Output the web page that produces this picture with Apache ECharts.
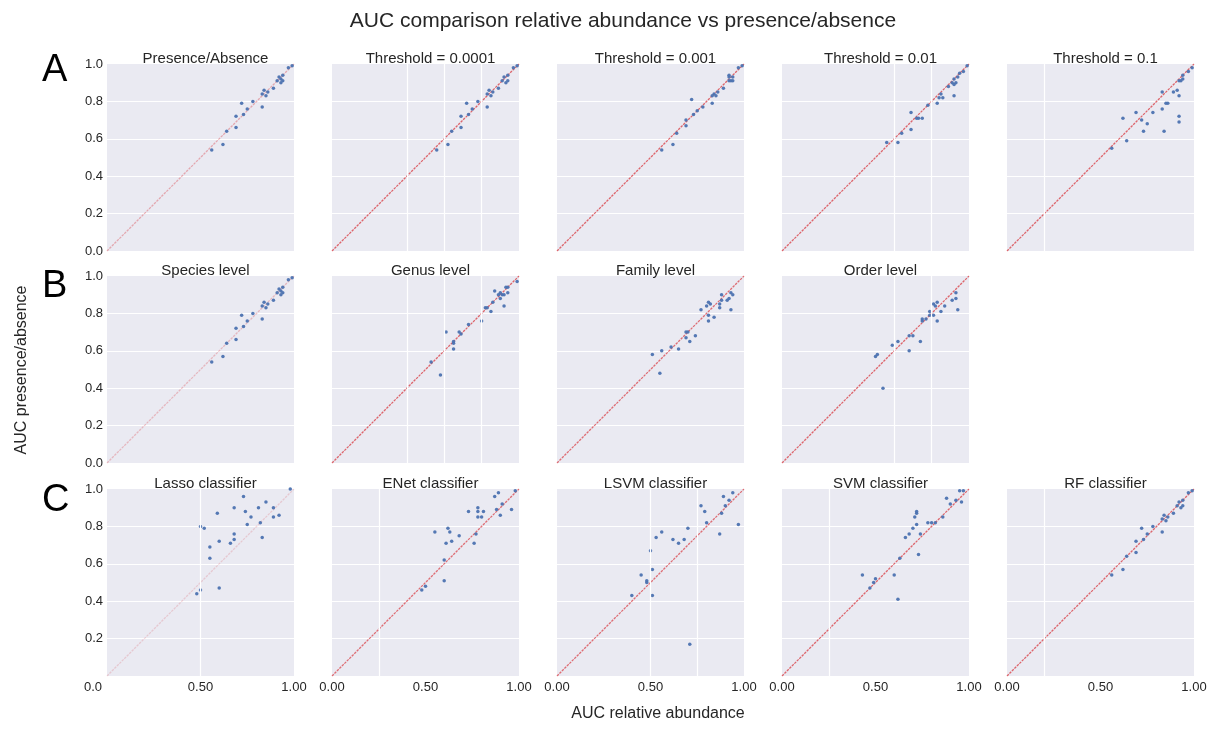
<!DOCTYPE html>
<html>
<head>
<meta charset="utf-8">
<script src="https://cdn.jsdelivr.net/npm/echarts@6/dist/echarts.min.js"></script>
<style>
  html, body { margin: 0; padding: 0; background: #ffffff; }
  #chart { width: 1218px; height: 729px; }
</style>
</head>
<body>
<div id="chart"></div>
<script>
// ---- Data: [AUC relative abundance, AUC presence/absence] per model ----
const presenceAbsence = [
  [0.56,0.54],[0.62,0.57],[0.64,0.64],[0.69,0.66],[0.69,0.72],[0.72,0.79],[0.73,0.73],
  [0.75,0.76],[0.78,0.80],[0.83,0.77],[0.83,0.84],[0.84,0.86],[0.85,0.83],[0.86,0.85],
  [0.89,0.87],[0.91,0.91],[0.92,0.93],[0.93,0.92],[0.93,0.90],[0.94,0.91],[0.94,0.94],
  [0.97,0.98],[0.99,0.99]
];
const threshold0001 = [
  [0.56,0.54],[0.62,0.57],[0.64,0.64],[0.69,0.66],[0.69,0.72],[0.72,0.79],[0.73,0.73],
  [0.75,0.76],[0.78,0.80],[0.83,0.77],[0.83,0.84],[0.84,0.86],[0.85,0.83],[0.86,0.85],
  [0.89,0.87],[0.91,0.91],[0.92,0.93],[0.93,0.90],[0.94,0.91],[0.94,0.94],[0.97,0.98],
  [0.99,0.99]
];
const threshold001 = [
  [0.56,0.54],[0.62,0.57],[0.64,0.63],[0.69,0.67],[0.69,0.70],[0.72,0.81],[0.73,0.73],
  [0.75,0.75],[0.78,0.77],[0.83,0.79],[0.83,0.83],[0.84,0.84],[0.85,0.83],[0.86,0.85],
  [0.89,0.87],[0.92,0.94],[0.92,0.93],[0.92,0.91],[0.93,0.91],[0.94,0.91],[0.94,0.93],
  [0.97,0.98],[0.99,0.99]
];
const threshold01 = [
  [0.56,0.58],[0.62,0.58],[0.64,0.63],[0.69,0.65],[0.69,0.74],[0.72,0.71],[0.73,0.71],
  [0.75,0.71],[0.78,0.78],[0.83,0.79],[0.84,0.82],[0.85,0.84],[0.86,0.82],[0.89,0.88],
  [0.91,0.90],[0.92,0.83],[0.92,0.89],[0.92,0.92],[0.93,0.90],[0.94,0.93],[0.95,0.95],
  [0.97,0.96],[0.99,0.99]
];
const threshold1 = [
  [0.56,0.55],[0.62,0.71],[0.64,0.59],[0.69,0.74],[0.72,0.70],[0.73,0.64],[0.75,0.68],
  [0.78,0.74],[0.83,0.76],[0.84,0.64],[0.85,0.79],[0.86,0.79],[0.83,0.85],[0.89,0.85],
  [0.91,0.86],[0.92,0.83],[0.92,0.72],[0.92,0.69],[0.92,0.91],[0.93,0.91],[0.94,0.92],
  [0.94,0.94],[0.97,0.96],[0.99,0.98]
];
const speciesLevel = presenceAbsence;
const genusLevel = [
  [0.53,0.54],[0.58,0.47],[0.61,0.70],[0.65,0.61],[0.65,0.64],[0.65,0.65],[0.68,0.70],
  [0.69,0.69],[0.73,0.74],[0.80,0.76],[0.82,0.83],[0.83,0.83],[0.85,0.81],[0.86,0.86],
  [0.87,0.92],[0.89,0.90],[0.90,0.88],[0.90,0.91],[0.91,0.90],[0.92,0.90],[0.92,0.84],
  [0.93,0.94],[0.94,0.94],[0.94,0.91],[0.99,0.97]
];
const familyLevel = [
  [0.51,0.58],[0.55,0.48],[0.56,0.60],[0.61,0.62],[0.65,0.61],[0.69,0.70],[0.70,0.70],
  [0.69,0.67],[0.71,0.65],[0.74,0.68],[0.77,0.82],[0.80,0.84],[0.81,0.86],[0.82,0.85],
  [0.81,0.79],[0.81,0.76],[0.84,0.78],[0.87,0.85],[0.87,0.83],[0.88,0.87],[0.88,0.90],
  [0.91,0.87],[0.92,0.88],[0.93,0.91],[0.94,0.90],[0.93,0.82]
];
const orderLevel = [
  [0.50,0.57],[0.51,0.58],[0.54,0.40],[0.59,0.63],[0.62,0.65],[0.68,0.60],[0.68,0.68],
  [0.70,0.68],[0.74,0.65],[0.75,0.76],[0.75,0.77],[0.77,0.77],[0.79,0.79],[0.79,0.81],
  [0.81,0.79],[0.81,0.85],[0.82,0.84],[0.83,0.86],[0.83,0.76],[0.85,0.81],[0.87,0.84],
  [0.91,0.87],[0.93,0.88],[0.93,0.91],[0.94,0.82]
];
const lassoClassifier = [
  [0.48,0.44],[0.50,0.46],[0.50,0.80],[0.52,0.79],[0.55,0.69],[0.55,0.63],[0.59,0.87],
  [0.60,0.72],[0.60,0.47],[0.66,0.71],[0.68,0.90],[0.68,0.76],[0.68,0.73],[0.73,0.96],
  [0.74,0.88],[0.75,0.81],[0.77,0.85],[0.81,0.90],[0.82,0.82],[0.83,0.74],[0.85,0.93],
  [0.89,0.90],[0.89,0.85],[0.92,0.86],[0.98,1.00]
];
const enetClassifier = [
  [0.48,0.46],[0.50,0.48],[0.60,0.51],[0.60,0.62],[0.55,0.77],[0.61,0.71],[0.62,0.79],
  [0.63,0.77],[0.64,0.72],[0.68,0.75],[0.73,0.88],[0.76,0.71],[0.77,0.76],[0.78,0.90],
  [0.78,0.88],[0.78,0.85],[0.80,0.85],[0.81,0.88],[0.87,0.96],[0.88,0.89],[0.89,0.98],
  [0.90,0.86],[0.91,0.92],[0.96,0.89],[0.98,0.99]
];
const lsvmClassifier = [
  [0.40,0.43],[0.45,0.54],[0.48,0.51],[0.48,0.50],[0.50,0.67],[0.51,0.57],[0.51,0.43],
  [0.53,0.74],[0.56,0.77],[0.62,0.73],[0.65,0.71],[0.68,0.73],[0.70,0.79],[0.71,0.17],
  [0.77,0.91],[0.79,0.88],[0.80,0.82],[0.87,0.76],[0.88,0.87],[0.89,0.96],[0.90,0.91],
  [0.92,0.94],[0.94,0.98],[0.97,0.81]
];
const svmClassifier = [
  [0.43,0.54],[0.47,0.47],[0.49,0.50],[0.50,0.52],[0.60,0.54],[0.62,0.41],[0.63,0.63],
  [0.66,0.74],[0.68,0.76],[0.70,0.79],[0.71,0.85],[0.72,0.87],[0.72,0.88],[0.72,0.81],
  [0.73,0.65],[0.74,0.76],[0.78,0.82],[0.80,0.82],[0.82,0.82],[0.86,0.85],[0.88,0.95],
  [0.90,0.92],[0.93,0.94],[0.95,0.99],[0.97,0.99],[0.96,0.93]
];
const rfClassifier = [
  [0.56,0.54],[0.62,0.57],[0.64,0.64],[0.69,0.66],[0.69,0.72],[0.72,0.79],[0.73,0.73],
  [0.75,0.76],[0.78,0.80],[0.83,0.77],[0.83,0.84],[0.84,0.86],[0.85,0.83],[0.86,0.85],
  [0.89,0.87],[0.91,0.91],[0.92,0.93],[0.93,0.90],[0.94,0.91],[0.94,0.94],[0.97,0.98],
  [0.99,0.99]
];

// Panel titles, row letters and axis tick labels
const panelTitles = [
  ['Presence/Absence', 'Threshold = 0.0001', 'Threshold = 0.001', 'Threshold = 0.01', 'Threshold = 0.1'],
  ['Species level', 'Genus level', 'Family level', 'Order level', null],
  ['Lasso classifier', 'ENet classifier', 'LSVM classifier', 'SVM classifier', 'RF classifier']
];
const panelData = [
  [presenceAbsence, threshold0001, threshold001, threshold01, threshold1],
  [speciesLevel, genusLevel, familyLevel, orderLevel, null],
  [lassoClassifier, enetClassifier, lsvmClassifier, svmClassifier, rfClassifier]
];
const rowLetters = ['A', 'B', 'C'];
const yTickLabels = ['0.0', '0.2', '0.4', '0.6', '0.8', '1.0'];
const xTickLabels = ['0.00', '0.50', '1.00'];

// Vertical white grid lines drawn in each panel (x positions)
const verticalGrid = [
  [[], [0.4, 0.6, 0.8], [], [0.6, 0.8], [0.2]],
  [[], [0.4, 0.6, 0.8], [], [0.6, 0.8], null],
  [[0.5], [0.25], [0.5, 0.75], [0.25], [0.2]]
];
// Strength of the dotted identity line per panel
const diagOpacity = [
  [0.4, 0.8, 0.8, 0.8, 0.8],
  [0.3, 0.8, 0.75, 0.8, null],
  [0.2, 0.75, 0.75, 0.8, 0.8]
];

// ---- Layout ----
const colLeft = [107, 332, 557, 782, 1007];
const rowTop = [64, 276, 489];
const side = 187;
const FONT = '"Liberation Sans", Arial, sans-serif';
const TXT = '#262626';

const grids = [], xAxes = [], yAxes = [], series = [], titles = [];
titles.push({
  text: 'AUC comparison relative abundance vs presence/absence',
  left: 618, top: 6, textAlign: 'center',
  textStyle: { fontFamily: FONT, fontSize: 21, fontWeight: 'normal', color: TXT }
});

let gi = 0;
for (let r = 0; r < 3; r++) {
  for (let c = 0; c < 5; c++) {
    const data = panelData[r][c];
    if (!data) continue;
    grids.push({
      left: colLeft[c], top: rowTop[r], width: side, height: side,
      show: true, backgroundColor: '#EAEAF2', borderWidth: 0
    });
    const bottomRow = r === 2;
    xAxes.push({
      gridIndex: gi, type: 'value', min: 0, max: 1, interval: 0.5,
      axisLine: { show: false }, axisTick: { show: false },
      splitLine: { show: false },
      axisLabel: {
        show: bottomRow, margin: 5, fontFamily: FONT, fontSize: 13, color: TXT,
        formatter: (v) => {
          const idx = Math.round(v * 2);
          if (c === 0 && idx === 0) return '{s|0.0}';
          return xTickLabels[idx];
        },
        rich: { s: { fontFamily: FONT, fontSize: 13, color: TXT, padding: [0, 28, 0, 0] } }
      }
    });
    yAxes.push({
      gridIndex: gi, type: 'value', min: 0, max: 1, interval: 0.2,
      axisLine: { show: false }, axisTick: { show: false },
      splitLine: { show: true, showMinLine: false, showMaxLine: false,
                   lineStyle: { color: '#ffffff', width: 1.2 } },
      axisLabel: {
        show: c === 0, margin: 4, fontFamily: FONT, fontSize: 13, color: TXT,
        formatter: (v) => {
          const idx = Math.round(v * 5);
          if (r === 2 && idx === 0) return '';
          return yTickLabels[idx];
        }
      }
    });
    titles.push({
      text: panelTitles[r][c],
      left: colLeft[c] + side / 2, top: rowTop[r] - 18, textAlign: 'center',
      textStyle: { fontFamily: FONT, fontSize: 15, fontWeight: 'normal', color: TXT }
    });
    // vertical grid lines
    series.push({
      type: 'line', xAxisIndex: gi, yAxisIndex: gi, data: [], silent: true, z: 1,
      markLine: {
        silent: true, symbol: 'none', label: { show: false },
        lineStyle: { color: '#ffffff', type: 'solid', width: 1.2 },
        data: verticalGrid[r][c].map(v => ({ xAxis: v }))
      }
    });
    // identity line
    series.push({
      type: 'line', xAxisIndex: gi, yAxisIndex: gi, silent: true, z: 2,
      data: [[0, 0], [1, 1]], symbol: 'none',
      lineStyle: { color: '#D9434A', width: 1.3, type: [2.5, 1], opacity: diagOpacity[r][c] }
    });
    // AUC points
    series.push({
      type: 'scatter', xAxisIndex: gi, yAxisIndex: gi, z: 3,
      data: data, symbol: 'circle', symbolSize: 3.5,
      itemStyle: { color: '#4C72B0', opacity: 0.95 }
    });
    gi++;
  }
}

const graphics = rowLetters.map((t, i) => ({
  type: 'text', left: 42, top: [52, 268, 482][i],
  style: { text: t, fontFamily: FONT, fontSize: 38, fill: '#000000' }
}));
graphics.push({
  type: 'text', x: 22, y: 370, rotation: Math.PI / 2,
  style: { text: 'AUC presence/absence', fontFamily: FONT, fontSize: 16, fill: TXT,
           align: 'center', verticalAlign: 'middle' }
});
graphics.push({
  type: 'text', x: 658, y: 714,
  style: { text: 'AUC relative abundance', fontFamily: FONT, fontSize: 16, fill: TXT,
           align: 'center', verticalAlign: 'middle' }
});

const chart = echarts.init(document.getElementById('chart'), null, { renderer: 'canvas' });
chart.setOption({
  backgroundColor: '#ffffff',
  animation: false,
  title: titles,
  grid: grids,
  xAxis: xAxes,
  yAxis: yAxes,
  series: series,
  graphic: graphics
});
</script>
</body>
</html>
